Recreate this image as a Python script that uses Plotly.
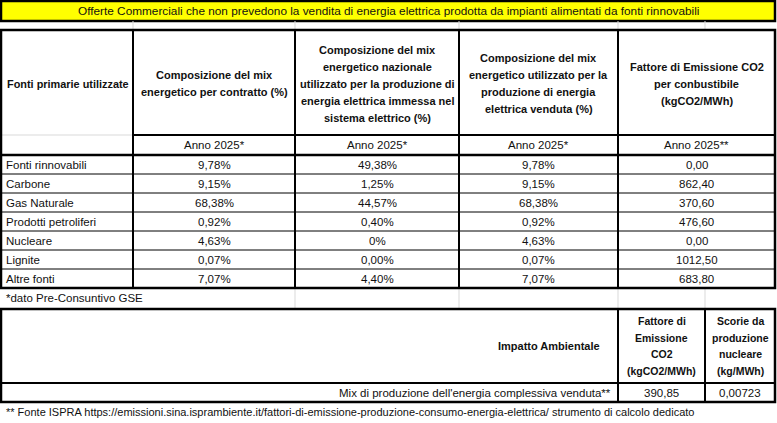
import plotly.graph_objects as go

# data
titolo = "Offerte Commerciali che non prevedono la vendita di energia elettrica prodotta da impianti alimentati da fonti rinnovabili"
fonti = ["Fonti rinnovabili", "Carbone", "Gas Naturale", "Prodotti petroliferi",
         "Nucleare", "Lignite", "Altre fonti"]
mix_contratto = ["9,78%", "9,15%", "68,38%", "0,92%", "4,63%", "0,07%", "7,07%"]
mix_nazionale = ["49,38%", "1,25%", "44,57%", "0,40%", "0%", "0,00%", "4,40%"]
mix_venduta = ["9,78%", "9,15%", "68,38%", "0,92%", "4,63%", "0,07%", "7,07%"]
fattore_emissione = ["0,00", "862,40", "370,60", "476,60", "0,00", "1012,50", "683,80"]
anni = ["Anno 2025*", "Anno 2025*", "Anno 2025*", "Anno 2025**"]
intestazioni = [
    ["Composizione del mix", "energetico per contratto (%)"],
    ["Composizione del mix", "energetico nazionale", "utilizzato per la produzione di",
     "energia elettrica immessa nel", "sistema elettrico (%)"],
    ["Composizione del mix", "energetico utilizzato per la", "produzione di energia",
     "elettrica venduta (%)"],
    ["Fattore di Emissione CO2", "per conbustibile", "(kgCO2/MWh)"],
]
impatto_head = [["Fattore di", "Emissione", "CO2", "(kgCO2/MWh)"],
                ["Scorie da", "produzione", "nucleare", "(kg/MWh)"]]
impatto_val = ["390,85", "0,00723"]
nota1 = "*dato Pre-Consuntivo GSE"
nota2 = ("** Fonte ISPRA https://emissioni.sina.isprambiente.it/fattori-di-emissione-"
         "produzione-consumo-energia-elettrica/ strumento di calcolo dedicato")

# layout geometry (pixels)
W, H = 777, 423
cx = [1, 133, 295, 459, 618, 775]
x_b = 705
y_head, y_anno, y_data = 30, 135, 155
rh = 19
y_end = y_data + rh * len(fonti)
y_bt, y_bm, y_bb = 309, 383, 402

FONT = "Liberation Sans, Arial, sans-serif"
INK = "#111111"
GRID = "#d9d9d9"

fig = go.Figure()
shapes = []
ann = []


def line(x0, y0, x1, y1, w=1, c="black"):
    shapes.append(dict(type="line", x0=x0, y0=y0, x1=x1, y1=y1,
                       line=dict(color=c, width=w), layer="above"))


def text(x, y, s, anchor="center", bold=False, size=11.5):
    if bold:
        s = "<b>" + s + "</b>"
    ann.append(dict(x=x, y=y, text=s, showarrow=False, xanchor=anchor,
                    yanchor="middle", font=dict(family=FONT, size=size, color=INK)))


# light sheet gridlines
for x in cx[1:5] + [x_b]:
    line(x, 21, x, y_head, 1, GRID)
for x in cx[2:5] + [x_b]:
    line(x, y_end, x, y_bt, 1, GRID)
line(cx[0], y_anno, cx[1], y_anno, 1, GRID)

# yellow banner
shapes.append(dict(type="rect", x0=1, y0=1, x1=775, y1=21, fillcolor="#ffff00",
                   line=dict(color="black", width=2.5), layer="below"))
text(388, 11, titolo, size=11.8)

# main table borders
for i in range(len(fonti) - 1):
    y = y_data + rh * (i + 1)
    line(cx[0], y, cx[-1], y, 1)
line(cx[1], y_anno, cx[-1], y_anno, 2)
line(cx[0], y_data, cx[-1], y_data, 2.5)
for x in cx[1:5]:
    line(x, y_head, x, y_end, 2)
shapes.append(dict(type="rect", x0=cx[0], y0=y_head, x1=cx[-1], y1=y_end,
                   line=dict(color="black", width=2.5), layer="above"))

# header texts
text(5, 84, "Fonti primarie utilizzate", anchor="left", bold=True, size=10.9)
for j, righe in enumerate(intestazioni):
    xm = (cx[j + 1] + cx[j + 2]) / 2
    y0 = 83.5 - 8.5 * (len(righe) - 1)
    for k, r in enumerate(righe):
        text(xm, y0 + 17 * k, r, bold=True, size=11)
    text(xm, (y_anno + y_data) / 2, anni[j])

# data rows
colonne = [mix_contratto, mix_nazionale, mix_venduta, fattore_emissione]
for i, f in enumerate(fonti):
    ym = y_data + rh * i + rh / 2
    text(4, ym, f, anchor="left")
    for j, col in enumerate(colonne):
        text((cx[j + 1] + cx[j + 2]) / 2, ym, col[i])

text(4, (y_end + y_bt) / 2 - 1, nota1, anchor="left")

# bottom table
shapes.append(dict(type="rect", x0=cx[0], y0=y_bt, x1=cx[-1], y1=y_bb,
                   line=dict(color="black", width=2.5), layer="above"))
line(cx[0], y_bm, cx[-1], y_bm, 2)
line(cx[4], y_bt, cx[4], y_bb, 2)
line(x_b, y_bt, x_b, y_bb, 2)
text(602, 346, "Impatto Ambientale", anchor="right", bold=True, size=11)
text(613, (y_bm + y_bb) / 2, "Mix di produzione dell'energia complessiva venduta**", anchor="right")
for j, righe in enumerate(impatto_head):
    xm = (cx[4] + x_b) / 2 if j == 0 else (x_b + cx[5]) / 2
    for k, r in enumerate(righe):
        text(xm, 321 + 16.5 * k, r, bold=True, size=10.5)
    text(xm, (y_bm + y_bb) / 2, impatto_val[j])

text(4, 412, nota2, anchor="left", size=11)

fig.update_layout(
    width=W, height=H, margin=dict(l=0, r=0, t=0, b=0),
    paper_bgcolor="white", plot_bgcolor="white",
    xaxis=dict(range=[0, W], visible=False, fixedrange=True),
    yaxis=dict(range=[H, 0], visible=False, fixedrange=True),
    shapes=shapes, annotations=ann, showlegend=False,
)

fig.write_html("out.html", config={"displayModeBar": False},
               post_script="document.body.style.margin='0';document.body.style.overflow='hidden';")
